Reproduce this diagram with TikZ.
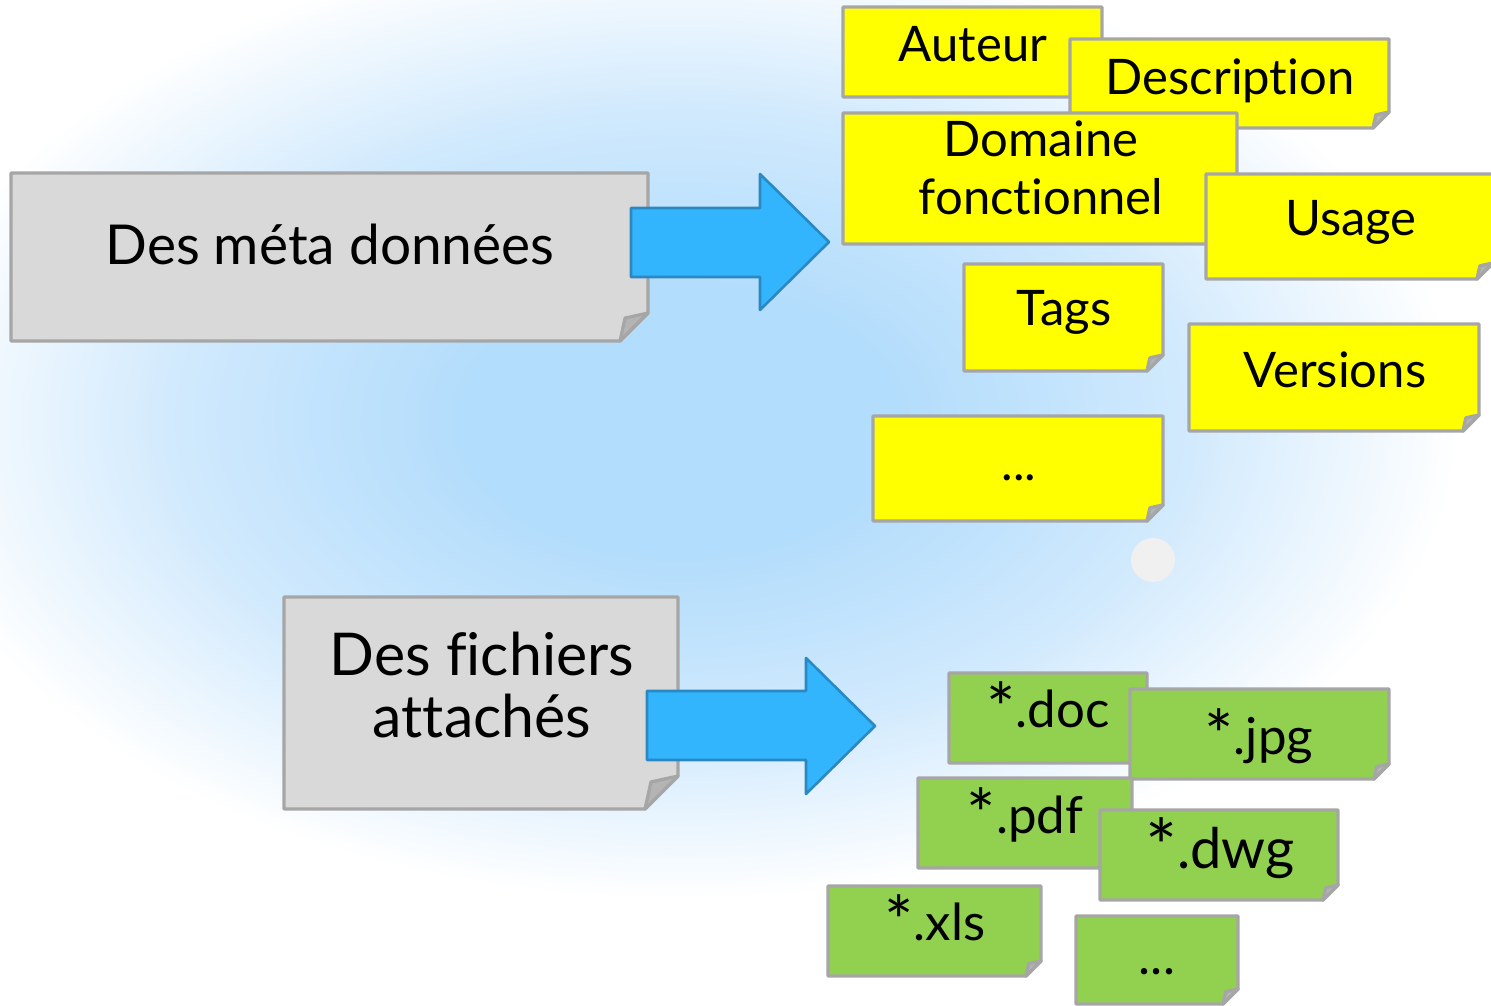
\documentclass[tikz,border=0pt]{standalone}
\usepackage{fontspec}
\setmainfont{Lato}[Ligatures={NoCommon}]
\usetikzlibrary{fit}
\definecolor{glowa}{HTML}{B3DDFC}
\definecolor{glowb}{HTML}{D0E9FD}
\definecolor{yellowc}{HTML}{FFFF00}
\definecolor{greenc}{HTML}{92D050}
\definecolor{grayc}{HTML}{D9D9D9}
\definecolor{borderc}{HTML}{A6A6A6}
\definecolor{foldc}{HTML}{B4B4B4}
\definecolor{arrowfill}{HTML}{33B5FD}
\definecolor{arrowdraw}{HTML}{2A89C3}
\definecolor{dotc}{HTML}{F0F0F0}
\pgfdeclareradialshading{glow}{\pgfpointorigin}{color(0bp)=(glowa); color(7bp)=(glowa); color(16bp)=(glowb); color(25bp)=(white); color(50bp)=(white)}
\newcommand\postit[7]{%
  \coordinate (#1-a) at (#3,#4);
  \coordinate (#1-b) at (#5,#6);
  \node[fit=(#1-a)(#1-b), inner sep=0pt, outer sep=0pt] (#1) {};
  \filldraw[#2] (#1.north west) -- (#1.north east) -- ([yshift=#7pt]#1.south east)
     -- ([xshift=-#7pt]#1.south east) -- (#1.south west) -- cycle;
  \filldraw[#2, fill=foldc] ([yshift=#7pt]#1.south east)
     -- ([xshift=-0.82*#7pt, yshift=0.82*#7pt]#1.south east)
     -- ([xshift=-#7pt]#1.south east) -- cycle;
}
\newcommand\bigast{\raisebox{-0.12em}{\scalebox{1.35}{*}}}
\tikzset{
  graybox/.style={fill=grayc, draw=borderc, line width=3.2pt, line join=round},
  yellowbox/.style={fill=yellowc, draw=borderc, line width=3.4pt, line join=round},
  greenbox/.style={fill=greenc, draw=borderc, line width=3.4pt, line join=round},
  blockarrow/.style={fill=arrowfill, draw=arrowdraw, line width=2.6pt, line join=round},
  lbl/.style={anchor=base, inner sep=0pt, text=black},
  bigtxt/.style={lbl, font=\fontsize{55}{62}\selectfont},
  midtxt/.style={lbl, font=\fontsize{49}{58}\selectfont},
  grntxt/.style={lbl, font=\fontsize{51}{60}\selectfont},
}
\begin{document}
\begin{tikzpicture}[x=1pt, y=-1pt]
\useasboundingbox (0,0) rectangle (1491,1006);
\fill[white] (0,0) rectangle (1491,1006);
\shade[shading=glow] (-100,-60) rectangle (1460,900);
\fill[dotc] (1153,560) circle (22pt);

% top: meta data
\postit{meta}{graybox}{11}{173}{648}{341}{28}
\node[bigtxt] (meta-t) at (330,264) {Des méta données};

\coordinate (a1-s) at (631,208);
\coordinate (a1-tip) at (829,242);
\draw[blockarrow] (a1-s) -- (760,208) -- (760,174) -- (a1-tip) -- (760,310) -- (760,277) -- (631,277) -- cycle;

\postit{auteur}{yellowbox}{843}{7}{1102}{97}{16}
\node[midtxt] (auteur-t) at (973,62) {Auteur};
\postit{descr}{yellowbox}{1070}{39}{1389}{128}{16}
\node[midtxt] (descr-t) at (1230,95) {Description};
\postit{domaine}{yellowbox}{843}{113}{1237}{244}{16}
\node[midtxt] (domaine-t) at (1041,157) {\begin{tabular}[t]{@{}c@{}}Domaine\\fonctionnel\end{tabular}};
\postit{usage}{yellowbox}{1206}{174}{1493}{279}{16}
\node[midtxt] (usage-t) at (1351,235) {Usage};
\postit{tags}{yellowbox}{964}{264}{1163}{371}{16}
\node[midtxt] (tags-t) at (1064,325) {Tags};
\postit{versions}{yellowbox}{1189}{324}{1479}{431}{16}
\node[midtxt] (versions-t) at (1335,387) {Versions};
\postit{ymore}{yellowbox}{873}{416}{1163}{521}{16}
\node[midtxt] (ymore-t) at (1019,480) {...};

% bottom: attached files
\postit{files}{graybox}{284}{597}{678}{809}{33}
\node[bigtxt, font=\fontsize{59}{62}\selectfont] (files-t) at (482,675) {\begin{tabular}[t]{@{}c@{}}Des fichiers\\attachés\end{tabular}};

\coordinate (a2-s) at (647,691);
\coordinate (a2-tip) at (875,726);
\draw[blockarrow] (a2-s) -- (806,691) -- (806,658) -- (a2-tip) -- (806,794) -- (806,760) -- (647,760) -- cycle;

\postit{doc}{greenbox}{949}{673}{1147}{763}{15}
\node[grntxt] (doc-t) at (1048,727) {\bigast.doc};
\postit{jpg}{greenbox}{1130}{689}{1389}{779}{15}
\node[grntxt] (jpg-t) at (1259,754) {\bigast.jpg};
\postit{pdf}{greenbox}{918}{778}{1132}{868}{15}
\node[grntxt] (pdf-t) at (1025,833) {\bigast.pdf};
\postit{dwg}{greenbox}{1100}{810}{1338}{900}{15}
\node[grntxt, font=\fontsize{56}{64}\selectfont] (dwg-t) at (1220,868) {\bigast.dwg};
\postit{xls}{greenbox}{828}{886}{1041}{976}{15}
\node[grntxt] (xls-t) at (935,940) {\bigast.xls};
\postit{gmore}{greenbox}{1076}{916}{1238}{1004}{15}
\node[grntxt] (gmore-t) at (1157,974) {...};
\end{tikzpicture}
\end{document}
